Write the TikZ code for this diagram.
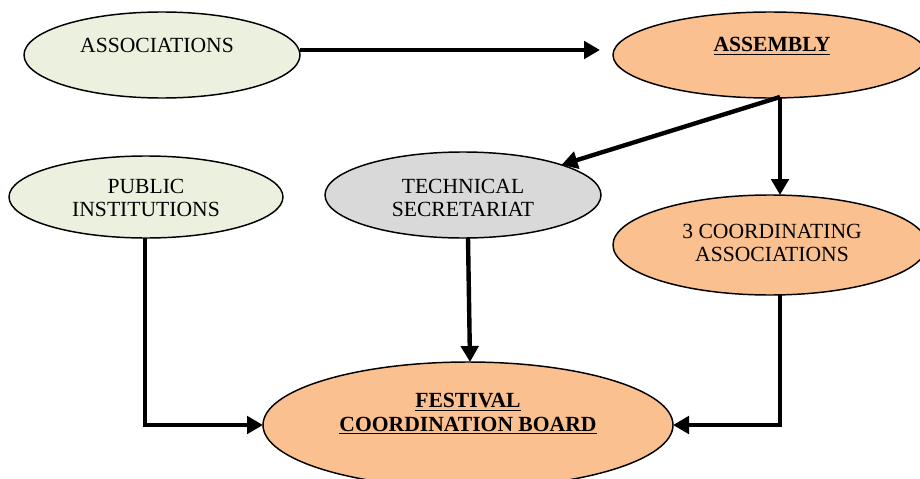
\documentclass[tikz,border=0pt]{standalone}
\usepackage{fontspec}
\setmainfont{Liberation Serif}
\usetikzlibrary{shapes.geometric,arrows.meta,calc}
\definecolor{lgreen}{HTML}{EBF1DE}
\definecolor{lorange}{HTML}{FAC090}
\definecolor{lgrey}{HTML}{D9D9D9}
\newcommand{\ulb}[1]{\underline{\textbf{#1}}}
\begin{document}
\begin{tikzpicture}[x=0.75pt,y=-0.75pt,
  oval/.style={ellipse,draw=black,line width=1.1pt,inner sep=0pt,outer sep=0pt},
  lbl/.style={align=center,font=\fontsize{16.2}{17.8}\selectfont,inner sep=0pt},
  conn/.style={line width=3.3pt,-{Triangle[length=12pt,width=13pt]}}]
\useasboundingbox (0,0) rectangle (920,478);
\node[oval,fill=lgreen,minimum width=207pt,minimum height=64.5pt] (assoc) at (162,55) {};
\node[lbl] (assoct) at (157,45) {ASSOCIATIONS};
\node[oval,fill=lorange,minimum width=235.5pt,minimum height=64.5pt] (assem) at (770,55) {};
\node[lbl] (assemt) at (772,46) {\ulb{ASSEMBLY}};
\node[oval,fill=lgreen,minimum width=205.5pt,minimum height=61.5pt] (pub) at (146,197) {};
\node[lbl] (pubt) at (146,198) {PUBLIC\\INSTITUTIONS};
\node[oval,fill=lgrey,minimum width=207pt,minimum height=64.5pt] (tech) at (463,195) {};
\node[lbl] (techt) at (463,198) {TECHNICAL\\SECRETARIAT};
\node[oval,fill=lorange,minimum width=235.5pt,minimum height=75pt] (coord) at (770,245) {};
\node[lbl] (coordt) at (772,243) {3 COORDINATING\\ASSOCIATIONS};
\node[oval,fill=lorange,minimum width=307.5pt,minimum height=94.5pt] (fest) at (468,425) {};
\node[lbl] (festt) at (468,414) {\ulb{FESTIVAL}\\\ulb{COORDINATION BOARD}};
\coordinate (a1) at (780,97);
\draw[conn,shorten >=9.75pt] ([yshift=3.75pt]assoc.east) -- ([yshift=3.75pt]assem.west);
\draw[conn] (a1) -- (tech.17);
\draw[conn] (a1) -- (a1 |- coord.north);
\draw[conn] ([xshift=-0.75pt]pub.south) -- ([xshift=-0.75pt]pub.south |- fest.west) -- (fest.west);
\draw[conn] ([xshift=3.75pt]tech.south) -- ([xshift=1.5pt]fest.north);
\draw[conn] (a1 |- coord.south) -- (a1 |- fest.east) -- (fest.east);
\end{tikzpicture}
\end{document}
